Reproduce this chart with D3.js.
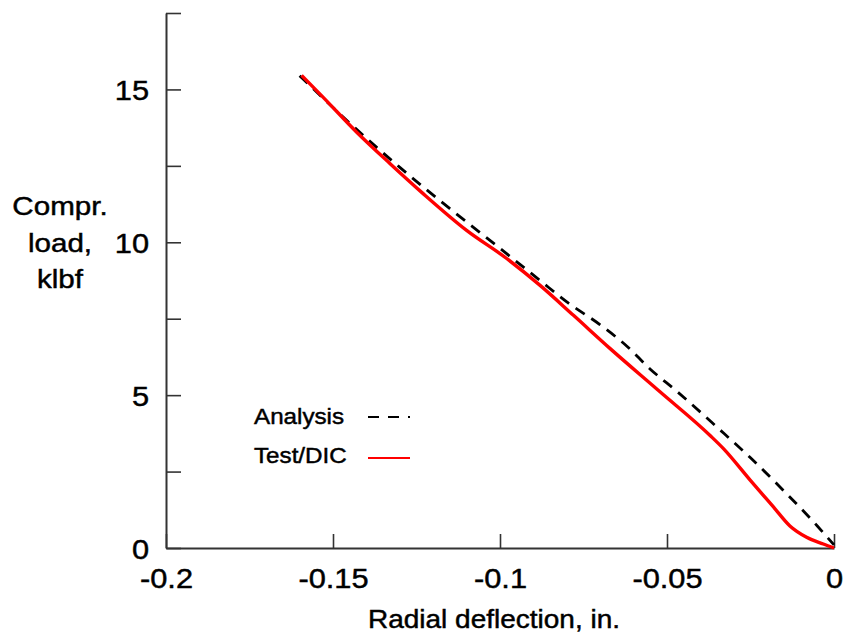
<!DOCTYPE html>
<html>
<head>
<meta charset="utf-8">
<script src="https://cdn.jsdelivr.net/npm/d3@7"></script>
<style>
    body { margin: 0; background: #fff; }
    svg { display: block; font-family: 'Liberation Sans', Arial, sans-serif; }
</style>
</head>
<body>
<svg id="chart" width="844" height="635"></svg>
<script>
// values
var xTickValues = [ -0.2, -0.15, -0.1, -0.05, 0 ];
var yTickValues = [ 0, 2.5, 5, 7.5, 10, 12.5, 15, 17.5 ];
var yLabelValues = [ 0, 5, 10, 15 ];

var analysisDeflection = [ -0.160, -0.145, -0.130, -0.115, -0.100, -0.088, -0.080, -0.070, -0.062, -0.055, -0.047, -0.035, -0.025, -0.0153, -0.005, 0 ];
var analysisLoad = [ 15.45, 13.9, 12.45, 11.1, 9.8, 8.75, 8.05, 7.3, 6.6, 5.85, 5.12, 3.95, 2.95, 1.9, 0.72, 0.1 ];

var testDeflection = [ -0.1594, -0.153, -0.1429, -0.1329, -0.1231, -0.110, -0.098, -0.088, -0.078, -0.0671, -0.0521, -0.0371, -0.0331, -0.0251, -0.0182, -0.0132, -0.0082, -0.0032, 0 ];
var testLoad = [ 15.46, 14.75, 13.6, 12.57, 11.6, 10.39, 9.47, 8.59, 7.61, 6.53, 5.11, 3.68, 3.25, 2.22, 1.35, 0.72, 0.35, 0.13, 0 ];

var legendNames = [ 'Analysis', 'Test/DIC' ];

var svg = d3.select( '#chart' ),
    _axisColor = '#333',
    _textStretch = 1.1,
    _textStroke = 0.45,
    _margin = { left: 166, right: 834, top: 13, bottom: 548 };

var x = d3.scaleLinear()
    .domain( [ -0.2, 0 ] )
    .range( [ _margin.left, _margin.right ] );
var y = d3.scaleLinear()
    .domain( [ 0, 17.5 ] )
    .range( [ _margin.bottom, _margin.top ] );

var zipPoints = function ( xs, ys ) {
    return xs.map( function ( d, i ) { return [ d, ys[ i ] ]; } );
};

// x axis, ticks point up into the plot
var xAxisGrp = svg.append( 'g' )
    .attr( 'transform', 'translate(0,' + _margin.bottom + ')' )
    .call( d3.axisBottom( x )
        .tickValues( xTickValues )
        .tickSizeInner( -14 )
        .tickSizeOuter( 0 )
        .tickFormat( function ( d ) { return d === 0 ? '0' : String( d ); } ) );

// y axis, ticks point right
var yAxisGrp = svg.append( 'g' )
    .attr( 'transform', 'translate(' + _margin.left + ',0)' )
    .call( d3.axisLeft( y )
        .tickValues( yTickValues )
        .tickSizeInner( -15 )
        .tickSizeOuter( 0 )
        .tickFormat( function ( d ) { return yLabelValues.indexOf( d ) >= 0 ? String( d ) : ''; } ) );

[ xAxisGrp, yAxisGrp ].forEach( function ( grp ) {
    grp.select( '.domain' ).attr( 'stroke', _axisColor ).attr( 'stroke-width', 2 );
    grp.selectAll( '.tick line' ).attr( 'stroke', _axisColor ).attr( 'stroke-width', 1.6 );
    grp.selectAll( '.tick text' )
        .attr( 'fill', '#000' )
        .attr( 'stroke', '#000' )
        .attr( 'stroke-width', _textStroke )
        .attr( 'font-size', 28 )
        .attr( 'font-family', null );
} );

xAxisGrp.selectAll( '.tick text' )
    .attr( 'y', 40 )
    .attr( 'dy', null )
    .attr( 'transform', 'scale(' + _textStretch + ',1)' );

yAxisGrp.selectAll( '.tick text' )
    .attr( 'x', -17 / _textStretch )
    .attr( 'dy', 10 )
    .attr( 'transform', 'scale(' + _textStretch + ',1)' );

// curves
var line = d3.line()
    .x( function ( d ) { return x( d[ 0 ] ); } )
    .y( function ( d ) { return y( d[ 1 ] ); } )
    .curve( d3.curveMonotoneX );

svg.append( 'path' )
    .datum( zipPoints( analysisDeflection, analysisLoad ) )
    .attr( 'd', line )
    .attr( 'fill', 'none' )
    .attr( 'stroke', '#000' )
    .attr( 'stroke-width', 2.8 )
    .attr( 'stroke-dasharray', '11,8' );

svg.append( 'path' )
    .datum( zipPoints( testDeflection, testLoad ) )
    .attr( 'd', line )
    .attr( 'fill', 'none' )
    .attr( 'stroke', '#ff0000' )
    .attr( 'stroke-width', 3.4 )
    .attr( 'stroke-linejoin', 'round' );

// stretched text helper
var addText = function ( str, px, py, size, anchor, stretch ) {
    return svg.append( 'text' )
        .attr( 'transform', 'translate(' + px + ',' + py + ') scale(' + ( stretch || _textStretch ) + ',1)' )
        .attr( 'text-anchor', anchor )
        .attr( 'font-size', size )
        .attr( 'fill', '#000' )
        .attr( 'stroke', '#000' )
        .attr( 'stroke-width', _textStroke )
        .text( str );
};

addText( 'Radial deflection, in.', 494, 628, 25, 'middle', 1.12 );
addText( 'Compr.', 60, 215, 25.5, 'middle', 1.16 );
addText( 'load,', 60, 252, 25.5, 'middle', 1.16 );
addText( 'klbf', 60, 288, 25.5, 'middle', 1.16 );

// legend
addText( legendNames[ 0 ], 254, 424, 22, 'start' );
addText( legendNames[ 1 ], 254, 463, 22, 'start' );

svg.append( 'line' )
    .attr( 'x1', 368 ).attr( 'x2', 410 )
    .attr( 'y1', 417 ).attr( 'y2', 417 )
    .attr( 'stroke', '#000' )
    .attr( 'stroke-width', 2.2 )
    .attr( 'stroke-dasharray', '11,9' );

svg.append( 'line' )
    .attr( 'x1', 368 ).attr( 'x2', 410 )
    .attr( 'y1', 458 ).attr( 'y2', 458 )
    .attr( 'stroke', '#ff0000' )
    .attr( 'stroke-width', 2.2 );
</script>
</body>
</html>
